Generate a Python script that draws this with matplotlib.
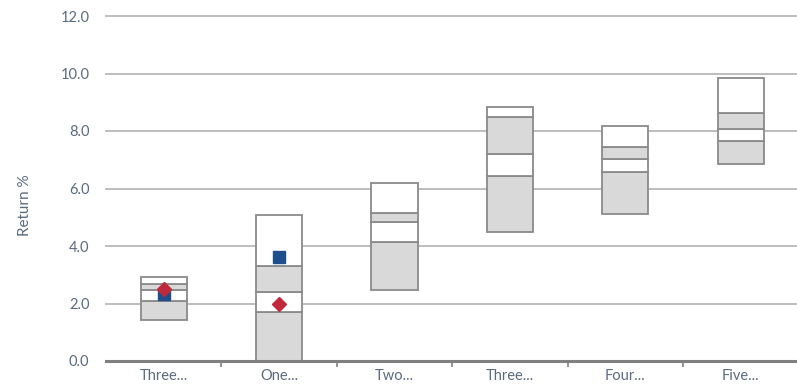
import matplotlib
matplotlib.use("Agg")
import matplotlib.pyplot as plt
import matplotlib.transforms as mtransforms
import numpy as np

categories = ["Three...", "One...", "Two...", "Three...", "Four...", "Five..."]
p5 = [1.44, 0.00, 2.47, 4.47, 5.11, 6.84]
p25 = [2.10, 1.69, 4.13, 6.45, 6.59, 7.66]
p50 = [2.48, 2.39, 4.85, 7.19, 7.03, 8.07]
p75 = [2.68, 3.30, 5.16, 8.50, 7.46, 8.64]
p95 = [2.93, 5.07, 6.19, 8.85, 8.18, 9.83]
square_vals = [2.33, 3.61, np.nan, np.nan, np.nan, np.nan]
diamond_vals = [2.49, 1.97, np.nan, np.nan, np.nan, np.nan]
yticks = [0, 2, 4, 6, 8, 10, 12]

plt.rcParams['font.family'] = ['Lato', 'DejaVu Sans']
W, H = 797, 388
fig = plt.figure(figsize=(W / 100, H / 100), dpi=100)
left = 106 / W
bottom = 1 - 361 / H
top = 1 - 16 / H
ax = fig.add_axes([left, bottom, 1 - left, top - bottom])

x = np.arange(len(categories))
bw = 0.4
edge = "#8a8a8a"
gray = "#d9d9d9"
segs = [(p5, p25, gray), (p25, p50, "white"), (p50, p75, gray), (p75, p95, "white")]
for lo, hi, col in segs:
    lo = np.array(lo); hi = np.array(hi)
    ax.bar(x, hi - lo, bottom=lo, width=bw, color=col, edgecolor=edge,
           linewidth=1.3, zorder=3)

ax.plot(x, square_vals, linestyle="none", marker="s", markersize=8.5,
        color="#1f4e8c", zorder=5)
ax.plot(x, diamond_vals, linestyle="none", marker="D", markersize=7,
        color="#c0283c", zorder=6)

ax.set_ylim(0, 12)
ax.set_xlim(-0.5, 5.5 - 1.5 / 115.3)
ax.set_yticks(yticks)
ax.set_yticklabels([f"{v:.1f}" for v in yticks], color="#5a6a80", fontsize=10.5)
ax.yaxis.grid(True, color="#bdbdbd", linewidth=1.4, zorder=0)
for gl in ax.yaxis.get_gridlines():
    gl.set_clip_on(False)
ax.tick_params(axis="y", length=0, pad=12)

ax.set_xticks(x)
ax.set_xticklabels(categories, color="#5a6a80", fontsize=10.5)
offset = mtransforms.ScaledTranslation(8 / 100, 0, fig.dpi_scale_trans)
for lbl in ax.get_xticklabels():
    lbl.set_transform(lbl.get_transform() + offset)
ax.set_xticks(np.arange(0.5, 5.5, 1), minor=True)
ax.tick_params(axis="x", which="major", length=0, pad=6)
ax.tick_params(axis="x", which="minor", length=4, width=1.2, color="#808080", direction="out")

for s in ["left", "right", "top"]:
    ax.spines[s].set_visible(False)
ax.spines["bottom"].set_color("#808080")
ax.spines["bottom"].set_linewidth(2.2)
ax.spines["bottom"].set_zorder(4)

ax.set_ylabel("Return %", color="#5a6a80", fontsize=11)
ax.yaxis.set_label_coords(-(106 - 32) / (W - 106), (361 - 205) / 345)
ax.set_axisbelow(True)

fig.savefig("out.png", dpi=100)
